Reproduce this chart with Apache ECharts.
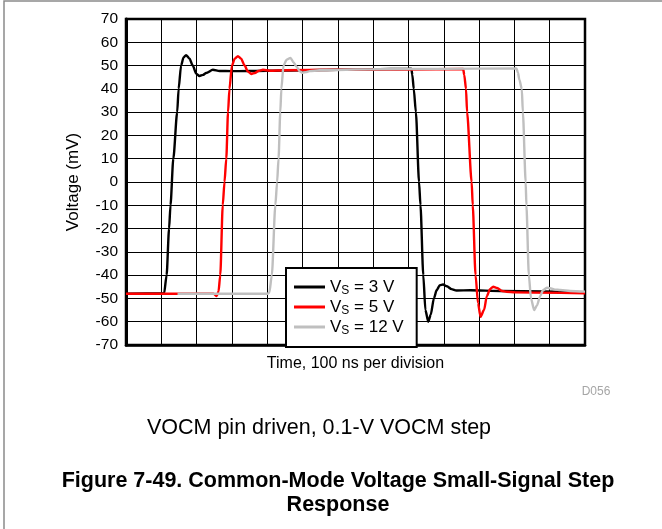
<!DOCTYPE html>
<html>
<head>
<meta charset="utf-8">
<style>
  html, body { margin: 0; padding: 0; background: #fff; }
  #chart { width: 662px; height: 529px; }
</style>
<script src="https://cdn.jsdelivr.net/npm/echarts@6/dist/echarts.min.js"></script>
</head>
<body>
<div id="chart"></div>
<script>
// time in ns (100 ns per division), voltage in mV
const blackT = [0, 108, 115, 122, 126, 134, 145, 149, 156, 163, 170, 180, 189, 199, 208, 218, 227, 246, 265, 300, 400, 500, 600, 700, 800, 808, 811, 815, 821, 830, 834, 842, 848, 856, 863, 872, 880, 889, 898, 909, 922, 936, 975, 1060, 1300];
const blackV = [-48, -47.8, -40, -20, -10, 10, 30, 40, 50, 53.5, 54.5, 53, 50, 46.5, 45.5, 46, 46.8, 48.2, 47.7, 47.6, 47.8, 48, 48.2, 48.4, 48.6, 48.7, 46, 40, 30, 0, -10, -40, -55, -60, -57, -50, -46.4, -44.3, -44, -44.8, -46, -46.6, -46.5, -46.8, -47.3];

const redT = [0, 248, 257, 262, 267, 274, 279, 284, 289, 293, 300, 308, 317, 326, 336, 345, 355, 365, 375, 388, 407, 450, 600, 800, 955, 958, 963, 966, 979, 982, 990, 997, 1004, 1014, 1022, 1031, 1040, 1051, 1065, 1078, 1102, 1300];
const redV = [-48, -48, -49, -47, -40, -10, 0, 10, 30, 40, 50, 53, 54, 53, 50, 47.5, 46.4, 46.8, 47.7, 48.2, 47.8, 48, 48.2, 48.3, 48.5, 46, 40, 30, 0, -10, -40, -52, -57.9, -55, -49, -46, -45, -45.5, -46.8, -47.1, -47.4, -47.8];

const grayT = [146, 401, 406, 413, 423, 428, 432, 437, 440, 446, 455, 466, 474, 483, 492, 501, 510, 520, 548, 700, 900, 1106, 1110, 1114, 1121, 1124, 1132, 1134, 1141, 1147, 1156, 1164, 1173, 1181, 1192, 1201, 1215, 1230, 1258, 1300];
const grayV = [-48, -48, -47.5, -40, -10, 0, 10, 30, 40, 50, 52.5, 53.3, 51.5, 49.5, 47.5, 46.9, 47.2, 47.6, 48, 48.4, 48.6, 48.8, 47, 44, 40, 30, 0, -10, -40, -50, -55, -53, -49, -46.5, -45.4, -45.6, -46.2, -46.4, -46.8, -47.1];

const seriesNames = ["VS = 3 V", "VS = 5 V", "VS = 12 V"];
const seriesColors = ["#000000", "#ff0000", "#bfbfbf"];

const FONT = "'Liberation Sans', Arial, sans-serif";

function pairs(t, v) {
    return t.map((x, i) => [x, v[i]]);
}

const chart = echarts.init(document.getElementById("chart"));

const lines = [pairs(blackT, blackV), pairs(redT, redV), pairs(grayT, grayV)];

chart.setOption({
    animation: false,
    backgroundColor: "#fff",
    textStyle: { fontFamily: FONT },
    grid: {
        left: 126, right: 77, top: 19, bottom: 184,
        show: true, borderColor: "#000", borderWidth: 2.5
    },
    xAxis: {
        type: "value",
        min: 0, max: 1300, interval: 100,
        name: "Time, 100 ns per division",
        nameLocation: "middle",
        nameGap: 11,
        nameTextStyle: { fontSize: 16, color: "#000", fontFamily: FONT, verticalAlign: "top" },
        axisLine: { show: true, onZero: false, lineStyle: { color: "#000", width: 2.5 } },
        axisTick: { show: false },
        axisLabel: { show: false },
        splitLine: { show: true, lineStyle: { color: "#000", width: 1 } }
    },
    yAxis: {
        type: "value",
        min: -70, max: 70, interval: 10,
        name: "Voltage (mV)",
        nameLocation: "middle",
        nameGap: 44,
        nameTextStyle: { fontSize: 17, color: "#000", fontFamily: FONT },
        axisLine: { show: true, lineStyle: { color: "#000", width: 3 } },
        axisTick: { show: false },
        axisLabel: { fontSize: 15.5, color: "#000", margin: 8, fontFamily: FONT },
        splitLine: { show: true, lineStyle: { color: "#000", width: 1 } }
    },
    legend: {
        orient: "vertical",
        left: 286, top: 268,
        padding: [9, 13, 10, 8],
        backgroundColor: "#fff",
        borderColor: "#000",
        borderWidth: 2,
        icon: "rect",
        itemWidth: 31, itemHeight: 3, itemGap: 0,
        data: seriesNames,
        formatter: function (name) {
            const rest = name.split(" = ")[1];
            return "{v|V}{s|S}{v| = " + rest + "}";
        },
        textStyle: {
            fontFamily: FONT,
            rich: {
                v: { fontSize: 17, color: "#000", lineHeight: 19, fontFamily: FONT },
                s: { fontSize: 12, color: "#000", lineHeight: 12, padding: [8, 0, 0, 0], fontFamily: FONT }
            }
        }
    },
    graphic: [
        {
            type: "rect", silent: true,
            shape: { x: 4, y: 1, width: 700, height: 600 },
            style: { fill: "none", stroke: "#8a8a8a", lineWidth: 1.5 }
        },
        {
            type: "text", x: 596, y: 392,
            style: { text: "D056", fill: "#a6a6a6", font: "12px " + FONT, textAlign: "center", textVerticalAlign: "middle" }
        },
        {
            type: "text", x: 319, y: 428,
            style: { text: "VOCM pin driven, 0.1-V VOCM step", fill: "#000", font: "21.5px " + FONT, textAlign: "center", textVerticalAlign: "middle" }
        },
        {
            type: "text", x: 338, y: 481,
            style: { text: "Figure 7-49. Common-Mode Voltage Small-Signal Step", fill: "#000", font: "bold 21.5px " + FONT, textAlign: "center", textVerticalAlign: "middle" }
        },
        {
            type: "text", x: 338, y: 505,
            style: { text: "Response", fill: "#000", font: "bold 21.5px " + FONT, textAlign: "center", textVerticalAlign: "middle" }
        }
    ],
    series: lines.map((d, i) => ({
        name: seriesNames[i],
        type: "line",
        data: d,
        symbol: "none",
        smooth: 0.25,
        smoothMonotone: "x",
        lineStyle: { color: seriesColors[i], width: 2.4 },
        itemStyle: { color: seriesColors[i] },
        z: 2 + i
    }))
});

window.addEventListener("resize", () => chart.resize());
</script>
</body>
</html>
